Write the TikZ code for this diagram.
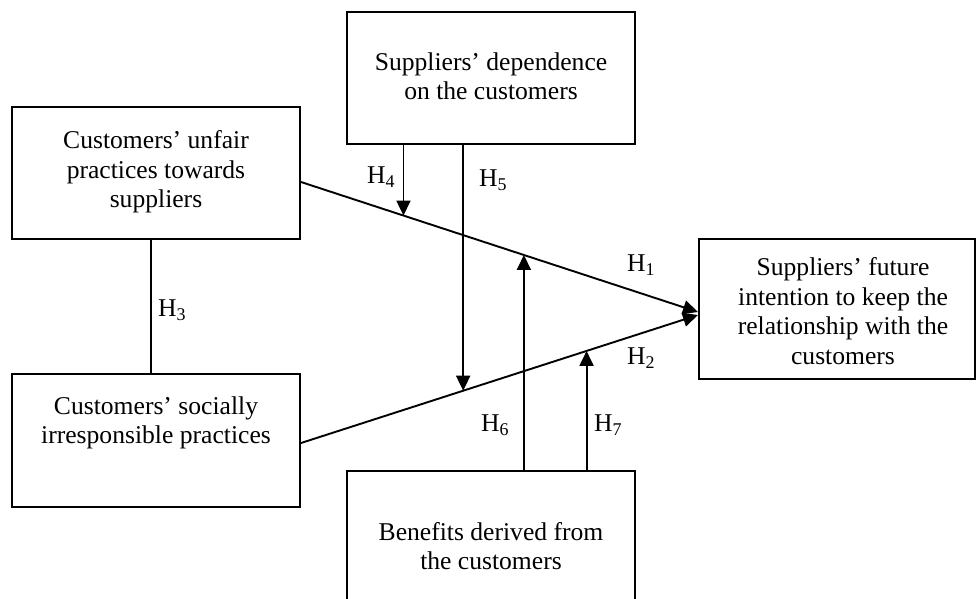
\documentclass[tikz,border=0pt]{standalone}
\usepackage{fontspec}
\setmainfont{Liberation Serif}
\usetikzlibrary{arrows.meta,calc}
\begin{document}
\begin{tikzpicture}[x=1pt,y=-1pt,
  box/.style={draw,line width=2pt,inner sep=0pt,minimum width=#1},
  box/.default=288pt,
  txt/.style={align=center,inner sep=0pt,font=\fontsize{25.6}{29.5}\selectfont},
  hlab/.style={inner sep=0pt,font=\fontsize{25.6}{29}\selectfont},
  conn/.style={line width=1.9pt},
  arr/.style={line width=1.9pt,-{Triangle[length=15pt,width=14pt]}}]
\useasboundingbox (0,0) rectangle (976,598);
% boxes
\node[box,minimum height=132pt] (A) at (156,173) {};
\node[box,minimum height=133pt] (B) at (156,440.5) {};
\node[box,minimum height=132pt] (C) at (491,78) {};
\node[box,minimum height=132pt] (D) at (491,537) {};
\node[box=276pt,minimum height=140pt] (E) at (837,309) {};
% texts
\node[txt] (At) at (156,172) {Customers’ unfair\\practices towards\\suppliers};
\node[txt] (Bt) at (156,423) {Customers’ socially\\irresponsible practices};
\node[txt] (Ct) at (491,76) {Suppliers’ dependence\\on the customers};
\node[txt] (Dt) at (491,546) {Benefits derived from\\the customers};
\node[txt] (Et) at (843,311) {Suppliers’ future\\intention to keep the\\relationship with the\\customers};
% main paths
\draw[arr] ([yshift=-9pt]A.east) -- coordinate[pos=0.2581](p4) coordinate[pos=0.5614](p6) ([yshift=-3pt]E.west);
\draw[arr] ([yshift=-2.5pt]B.east) -- coordinate[pos=0.4085](p5) coordinate[pos=0.7193](p7) ([yshift=-6pt]E.west);
\draw[conn] ([xshift=-5pt]A.south) -- ([xshift=-5pt]B.north);
% moderators
\draw[arr] (p4 |- C.south) -- (p4);
\draw[arr] (p5 |- C.south) -- (p5);
\draw[arr] (p6 |- D.north) -- (p6);
\draw[arr] (p7 |- D.north) -- (p7);
% labels
\node[hlab] (H1) at (641,265) {H\textsubscript{1}};
\node[hlab] (H2) at (641,358) {H\textsubscript{2}};
\node[hlab] (H3) at (172,310) {H\textsubscript{3}};
\node[hlab] (H4) at (381,177) {H\textsubscript{4}};
\node[hlab] (H5) at (493,180) {H\textsubscript{5}};
\node[hlab] (H6) at (495,425) {H\textsubscript{6}};
\node[hlab] (H7) at (608,425) {H\textsubscript{7}};
\end{tikzpicture}
\end{document}
